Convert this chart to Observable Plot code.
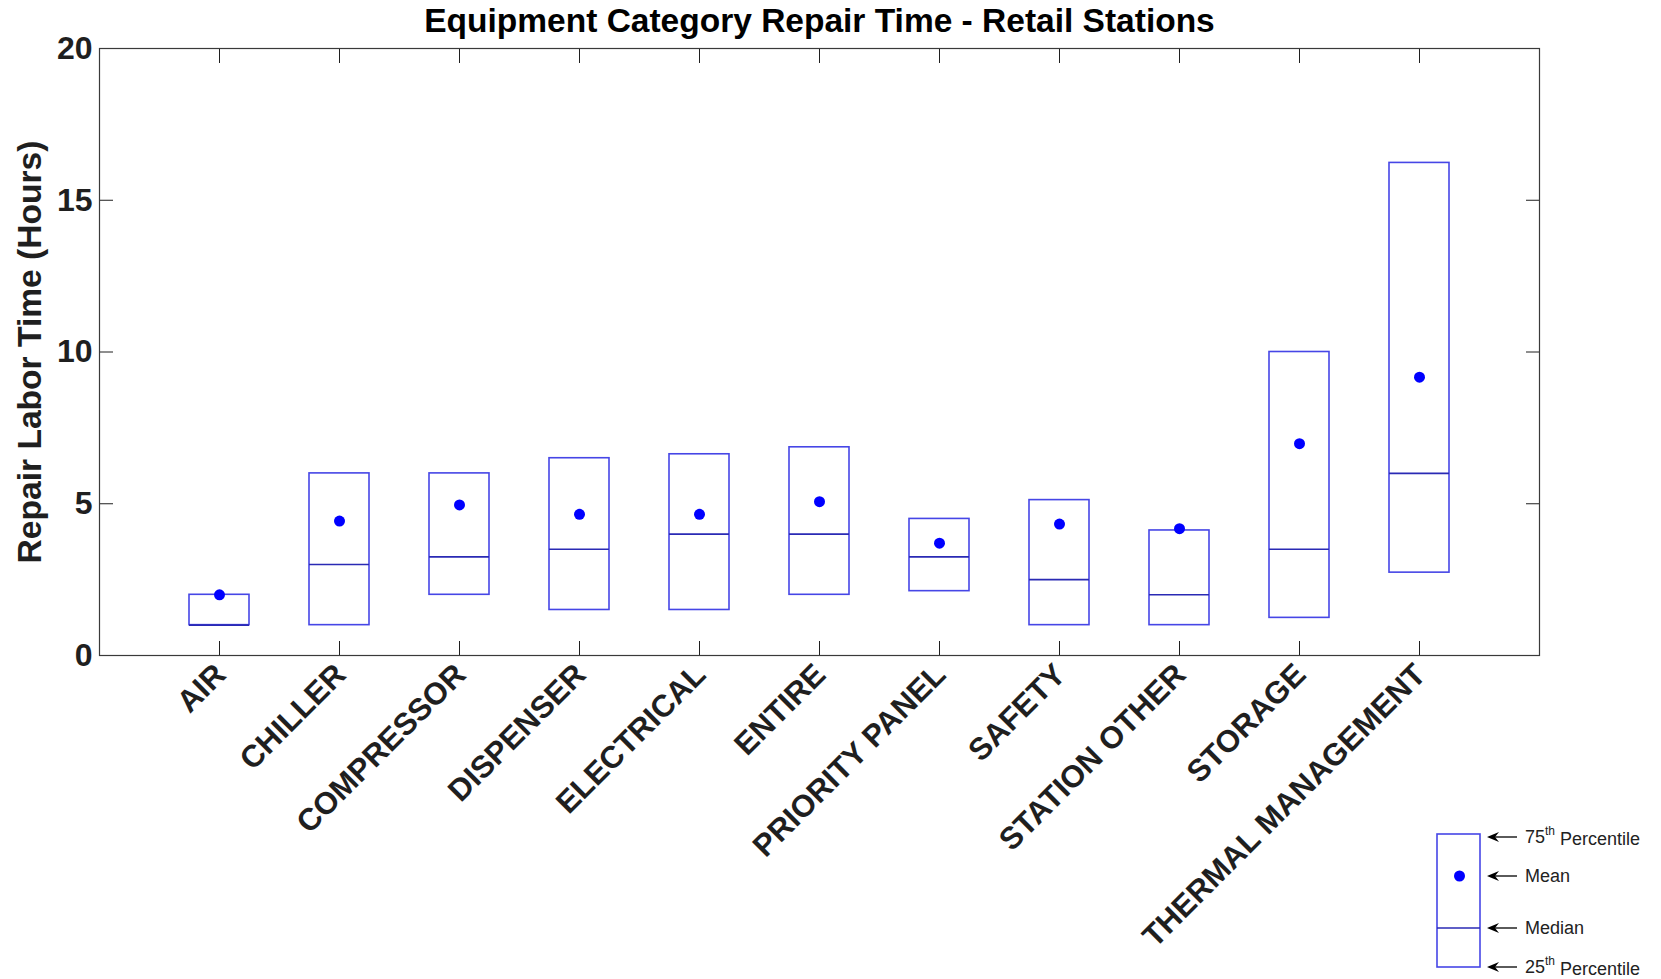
<!DOCTYPE html>
<html>
<head>
<meta charset="utf-8">
<script src="https://cdn.jsdelivr.net/npm/d3@7"></script>
<script src="https://cdn.jsdelivr.net/npm/@observablehq/plot@0.6"></script>
<style>
  html, body { margin: 0; padding: 0; background: #ffffff; }
  #wrap { position: relative; width: 1661px; height: 979px; overflow: hidden; }
  #chart { position: absolute; left: 0; top: 0; }
  #legend { position: absolute; left: 1400px; top: 800px; }
</style>
</head>
<body>
<div id="wrap">
  <div id="chart"></div>
  <div id="legend"></div>
</div>
<script>
const categories = ["AIR", "CHILLER", "COMPRESSOR", "DISPENSER", "ELECTRICAL", "ENTIRE",
  "PRIORITY PANEL", "SAFETY", "STATION OTHER", "STORAGE", "THERMAL MANAGEMENT"];
const p25 = [1, 1, 2, 1.5, 1.5, 2, 2.12, 1, 1, 1.24, 2.73];
const median = [1, 3, 3.25, 3.5, 4, 4, 3.25, 2.5, 2, 3.5, 6];
const p75 = [2, 6, 6, 6.5, 6.63, 6.86, 4.5, 5.12, 4.12, 10, 16.23];
const mean = [2, 4.43, 4.96, 4.65, 4.65, 5.07, 3.7, 4.33, 4.18, 6.98, 9.17];
const yTicks = [0, 5, 10, 15, 20];
const title = "Equipment Category Repair Time - Retail Stations";
const yLabel = "Repair Labor Time (Hours)";
const legendLabels = [["75", "th", " Percentile"], ["Mean"], ["Median"], ["25", "th", " Percentile"]];

const rows = categories.map((c, i) => ({cat: c, pos: i + 1, p25: p25[i], median: median[i], p75: p75[i], mean: mean[i]}));
const xTicks = rows.map(d => d.pos);
const half = 0.25;
const boxStroke = "#4646e6";
const medStroke = "#2a2ab4";
const ink = "#1f1f1f";
const font = "'Liberation Sans', Arial, Helvetica, sans-serif";

const chart = Plot.plot({
  width: 1661,
  height: 979,
  marginLeft: 99,
  marginRight: 122,
  marginTop: 48,
  marginBottom: 324,
  style: {fontFamily: font, color: ink, background: "#ffffff", overflow: "visible"},
  x: {domain: [0, 12], axis: null},
  y: {domain: [0, 20], axis: null},
  marks: [
    // inward ticks on all four sides
    Plot.axisX(xTicks, {anchor: "bottom", tickSize: -14, tickFormat: () => "", label: null, stroke: ink}),
    Plot.axisX(xTicks, {anchor: "top", tickSize: -14, tickFormat: () => "", label: null, stroke: ink}),
    Plot.axisY(yTicks, {anchor: "left", tickSize: -14, tickFormat: () => "", label: null, stroke: ink}),
    Plot.axisY(yTicks, {anchor: "right", tickSize: -14, tickFormat: () => "", label: null, stroke: ink}),
    // y tick labels
    Plot.axisY(yTicks, {anchor: "left", tickSize: 0, tickPadding: 7, label: null, fontSize: 32, fontWeight: "bold", fill: ink}),
    // rotated category labels
    Plot.text(rows, {x: "pos", y: () => 0, text: "cat", rotate: -45, textAnchor: "end", lineAnchor: "bottom",
      dx: 8, dy: 21, fontSize: 31, fontWeight: "bold", fill: ink}),
    Plot.frame({stroke: "#3a3a3a", strokeWidth: 1.2}),
    // boxes
    Plot.rect(rows, {x1: d => d.pos - half, x2: d => d.pos + half, y1: "p25", y2: "p75",
      fill: "none", stroke: boxStroke, strokeWidth: 1.6}),
    Plot.ruleY(rows, {y: "median", x1: d => d.pos - half, x2: d => d.pos + half, stroke: medStroke, strokeWidth: 1.6}),
    Plot.dot(rows, {x: "pos", y: "mean", r: 5.5, fill: "#0000ff", stroke: "none"}),
    // title and y label
    Plot.text([title], {frameAnchor: "top", dy: -27, lineAnchor: "middle", textAnchor: "middle", fontSize: 33.5, fontWeight: "bold", fill: "#000000"}),
    Plot.text([yLabel], {frameAnchor: "left", dx: -69, rotate: -90, lineAnchor: "middle", textAnchor: "middle", fontSize: 33.6, fontWeight: "bold", fill: ink})
  ]
});
document.getElementById("chart").appendChild(chart);

// legend key (drawn as a small annotation graphic)
const lg = d3.select("#legend").append("svg")
  .attr("width", 261).attr("height", 179)
  .style("font-family", font);
const bx = 37, bw = 43, yTop = 34, yBot = 167, yMed = 128, yMean = 76;
lg.append("rect").attr("x", bx).attr("y", yTop).attr("width", bw).attr("height", yBot - yTop)
  .attr("fill", "none").attr("stroke", boxStroke).attr("stroke-width", 1.6);
lg.append("line").attr("x1", bx).attr("x2", bx + bw).attr("y1", yMed).attr("y2", yMed)
  .attr("stroke", medStroke).attr("stroke-width", 1.6);
lg.append("circle").attr("cx", bx + bw / 2 + 1).attr("cy", yMean).attr("r", 5.5).attr("fill", "#0000ff");
const rowsY = [37, 76, 128, 167];
rowsY.forEach((y, i) => {
  const g = lg.append("g");
  g.append("line").attr("x1", 90).attr("x2", 117).attr("y1", y).attr("y2", y).attr("stroke", "#000").attr("stroke-width", 1.3);
  g.append("path").attr("d", `M87,${y} L99,${y - 5} L95,${y} L99,${y + 5} Z`).attr("fill", "#000");
  const t = g.append("text").attr("x", 125).attr("y", y).attr("dy", "0.35em").attr("font-size", 18).attr("fill", "#222");
  const parts = legendLabels[i];
  t.append("tspan").text(parts[0]);
  if (parts.length > 1) {
    t.append("tspan").attr("font-size", 12).attr("dy", "-0.7em").text(parts[1]);
    t.append("tspan").attr("dy", "0.55em").text(parts[2]);
  }
});
</script>
</body>
</html>
